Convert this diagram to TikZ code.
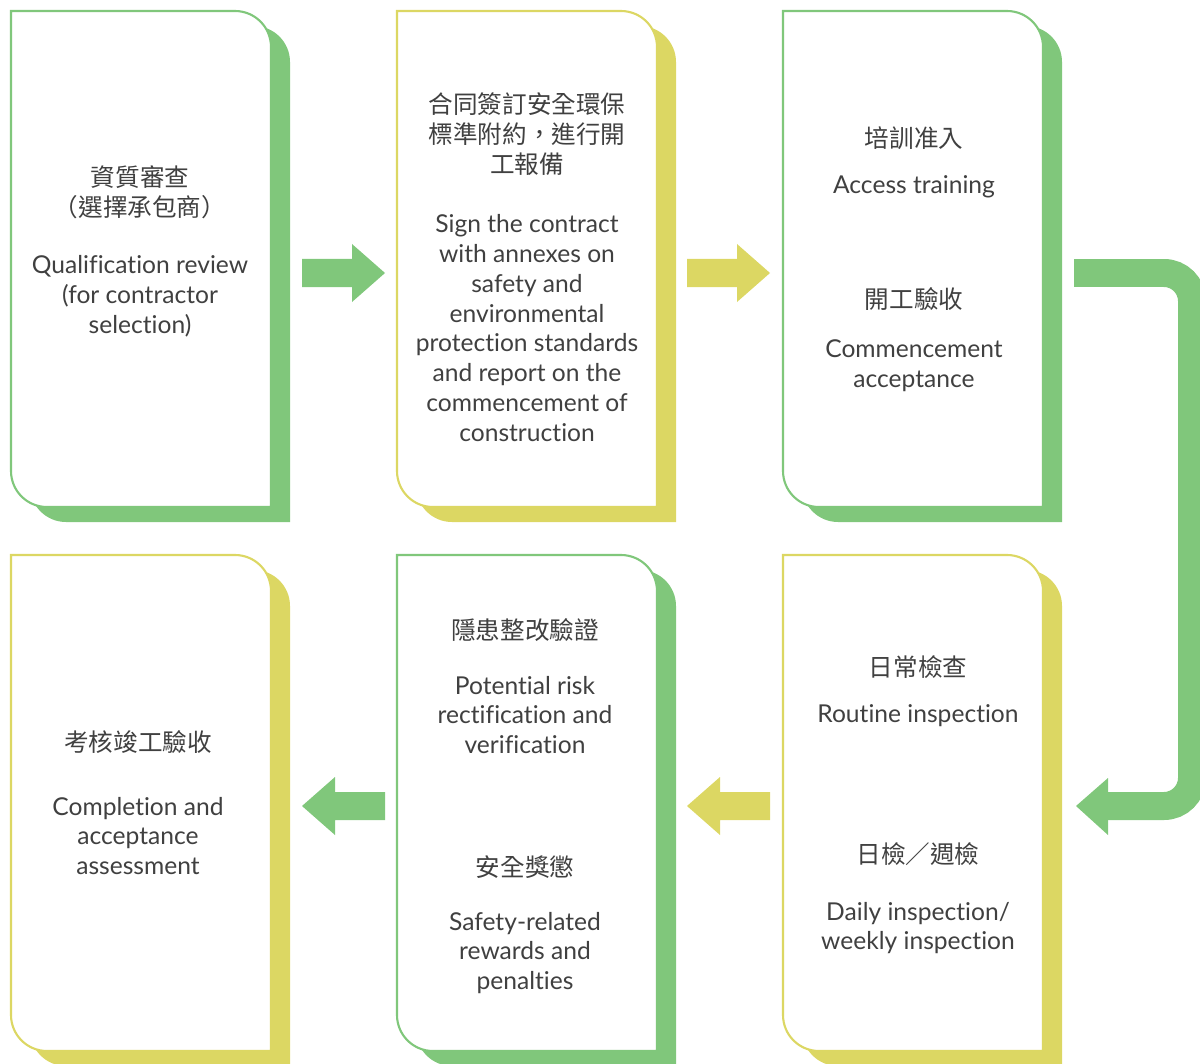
\documentclass[tikz,border=0pt]{standalone}
\usepackage{fontspec}
\setmainfont{Lato}[Ligatures=NoCommon]
\newfontfamily\cjk{Noto Sans CJK TC}
\definecolor{leaf}{HTML}{80C77B}
\definecolor{straw}{HTML}{DCD763}
\definecolor{ink}{HTML}{404040}
\begin{document}
\begin{tikzpicture}[x=0.02cm, y=-0.02cm,
    en/.style={text=ink, align=center, inner sep=0pt, font=\fontsize{14}{17}\selectfont},
    zh/.style={text=ink, align=center, inner sep=0pt, font=\cjk\fontsize{14}{17}\selectfont}]
	\useasboundingbox (0,0) rectangle (1200,1064);
	% cards: coloured shadow first, then the outlined white card
	\foreach \x/\y/\c in {11/11/leaf, 397/11/straw, 783/11/leaf, 11/555/straw, 397/555/leaf, 783/555/straw}{
		\fill[\c] (\x+19,\y+15) -- (\x+243,\y+15) arc[start angle=270, end angle=360, radius=36] -- (\x+279,\y+511) -- (\x+55,\y+511) arc[start angle=90, end angle=180, radius=36] -- cycle;
		\filldraw[fill=white, draw=\c, line width=1.2pt] (\x,\y) -- (\x+224,\y) arc[start angle=270, end angle=360, radius=36] -- (\x+260,\y+496) -- (\x+36,\y+496) arc[start angle=90, end angle=180, radius=36] -- cycle;
	}
	% arrows between the cards
	\fill[leaf] (302,259) -- (352,259) -- (352,244) -- (385,273) -- (352,302) -- (352,287) -- (302,287) -- cycle;
	\fill[straw] (687,259) -- (737,259) -- (737,244) -- (770,273) -- (737,302) -- (737,287) -- (687,287) -- cycle;
	\draw[leaf, line width=0.56cm, rounded corners=0.56cm] (1074,273) -- (1192,273) -- (1192,806) -- (1106,806);
	\fill[leaf] (1108,778) -- (1076,806) -- (1108,835) -- cycle;
	\fill[straw] (770,792) -- (720,792) -- (720,777) -- (687,806) -- (720,835) -- (720,820) -- (770,820) -- cycle;
	\fill[leaf] (385,792) -- (335,792) -- (335,777) -- (302,806) -- (335,835) -- (335,820) -- (385,820) -- cycle;
	% texts, top row
	\node[zh] (qual-zh) at (140,192) {資質審查\\（選擇承包商）};
	\node[en] (qual-en) at (140,296) {Qualification review\\(for contractor\\selection)};
	\node[zh] (sign-zh) at (527,134) {合同簽訂安全環保\\標準附約，進行開\\工報備};
	\node[en] (sign-en) at (527,328) {Sign the contract\\with annexes on\\safety and\\environmental\\protection standards\\and report on the\\commencement of\\construction};
	\node[zh] (train-zh) at (914,138) {培訓准入};
	\node[en] (train-en) at (914,187) {Access training};
	\node[zh] (start-zh) at (914,299) {開工驗收};
	\node[en] (start-en) at (914,366) {Commencement\\acceptance};
	% texts, bottom row
	\node[zh] (done-zh) at (138,742) {考核竣工驗收};
	\node[en] (done-en) at (138,836) {Completion and\\acceptance\\assessment};
	\node[zh] (risk-zh) at (525,630) {隱患整改驗證};
	\node[en] (risk-en) at (525,715) {Potential risk\\rectification and\\verification};
	\node[zh] (reward-zh) at (525,867) {安全獎懲};
	\node[en] (reward-en) at (525,953) {Safety-related\\rewards and\\penalties};
	\node[zh] (check-zh) at (918,667) {日常檢查};
	\node[en] (check-en) at (918,716) {Routine inspection};
	\node[zh] (week-zh) at (918,854) {日檢／週檢};
	\node[en] (week-en) at (918,928) {Daily inspection/\\weekly inspection};
\end{tikzpicture}
\end{document}
